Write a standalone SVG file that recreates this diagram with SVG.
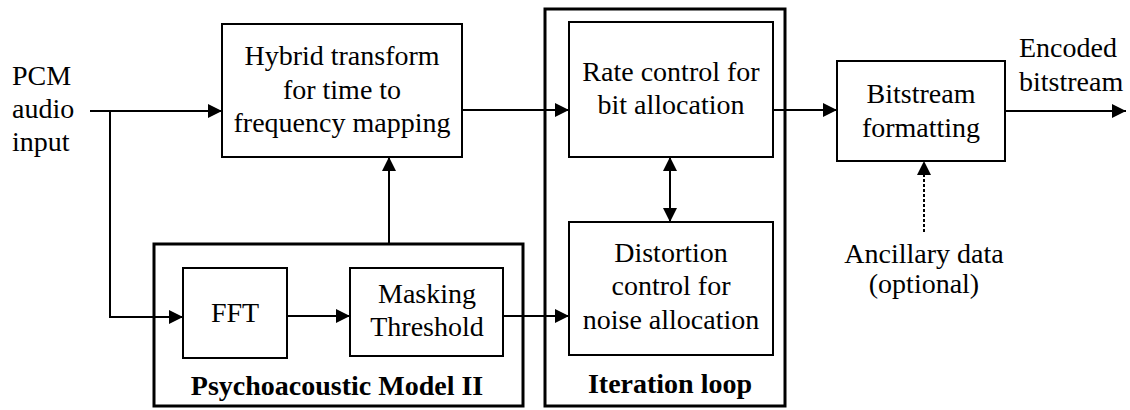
<svg xmlns="http://www.w3.org/2000/svg" width="1130" height="410" viewBox="0 0 1130 410">
  <style>
    text { font-family: "Times New Roman", "Liberation Serif", Tinos, Times, "DejaVu Serif", serif; font-size: 28px; fill: #000; }
    .c { text-anchor: middle; }
    .b { font-weight: bold; }
    .box { fill: #fff; stroke: #000; stroke-width: 2; }
    .outer { fill: none; stroke: #000; stroke-width: 3; }
    .wire { fill: none; stroke: #000; stroke-width: 2; }
    .dot { fill: none; stroke: #000; stroke-width: 2; stroke-dasharray: 3 2; }
  </style>
  <defs>
    <marker id="arrow" viewBox="0 0 14 14" refX="14" refY="7" markerWidth="14" markerHeight="14" markerUnits="userSpaceOnUse" orient="auto-start-reverse">
      <path d="M0,0 L14,7 L0,14 Z" fill="#000"/>
    </marker>
  </defs>

  <rect width="1130" height="410" fill="#fff"/>

  <!-- grouping frames -->
  <g id="psychoacoustic-model">
    <rect class="outer" x="154" y="244" width="369" height="162"/>
    <text class="c b" x="337" y="395">Psychoacoustic Model II</text>
  </g>
  <g id="iteration-loop">
    <rect class="outer" x="545" y="9" width="240" height="397"/>
    <text class="c b" x="670" y="393">Iteration loop</text>
  </g>

  <!-- connectors -->
  <g id="connectors">
    <path class="wire" d="M90,111 H222" marker-end="url(#arrow)"/>
    <path class="wire" d="M110,111 V317 H183" marker-end="url(#arrow)"/>
    <path class="wire" d="M287,316 H350" marker-end="url(#arrow)"/>
    <path class="wire" d="M503,316 H569" marker-end="url(#arrow)"/>
    <path class="wire" d="M389,244 V157" marker-end="url(#arrow)"/>
    <path class="wire" d="M462,110 H569" marker-end="url(#arrow)"/>
    <path class="wire" d="M670,157 V222" marker-start="url(#arrow)" marker-end="url(#arrow)"/>
    <path class="wire" d="M773,110 H837" marker-end="url(#arrow)"/>
    <path class="wire" d="M1005,111 H1126" marker-end="url(#arrow)"/>
    <path class="dot" d="M924,232 V161" marker-end="url(#arrow)"/>
  </g>

  <!-- input / output labels -->
  <g id="pcm-input">
    <text x="12" y="85">PCM</text>
    <text x="12" y="118">audio</text>
    <text x="12" y="151">input</text>
  </g>
  <g id="encoded-output">
    <text x="1019" y="57">Encoded</text>
    <text x="1019" y="91">bitstream</text>
  </g>
  <g id="ancillary-data">
    <text class="c" x="924" y="263">Ancillary data</text>
    <text class="c" x="924" y="293">(optional)</text>
  </g>

  <!-- processing blocks -->
  <g id="hybrid-transform">
    <rect class="box" x="222" y="24" width="240" height="133"/>
    <text class="c" x="342" y="65">Hybrid transform</text>
    <text class="c" x="342" y="99">for time to</text>
    <text class="c" x="342" y="132">frequency mapping</text>
  </g>
  <g id="fft">
    <rect class="box" x="183" y="268" width="104" height="90"/>
    <text class="c" x="235" y="322">FFT</text>
  </g>
  <g id="masking-threshold">
    <rect class="box" x="350" y="268" width="153" height="88"/>
    <text class="c" x="427" y="303">Masking</text>
    <text class="c" x="427" y="336">Threshold</text>
  </g>
  <g id="rate-control">
    <rect class="box" x="569" y="22" width="204" height="135"/>
    <text class="c" x="671" y="81">Rate control for</text>
    <text class="c" x="671" y="114">bit allocation</text>
  </g>
  <g id="distortion-control">
    <rect class="box" x="569" y="222" width="204" height="133"/>
    <text class="c" x="671" y="262">Distortion</text>
    <text class="c" x="671" y="295">control for</text>
    <text class="c" x="671" y="329">noise allocation</text>
  </g>
  <g id="bitstream-formatting">
    <rect class="box" x="837" y="61" width="168" height="100"/>
    <text class="c" x="921" y="103">Bitstream</text>
    <text class="c" x="921" y="137">formatting</text>
  </g>
</svg>
